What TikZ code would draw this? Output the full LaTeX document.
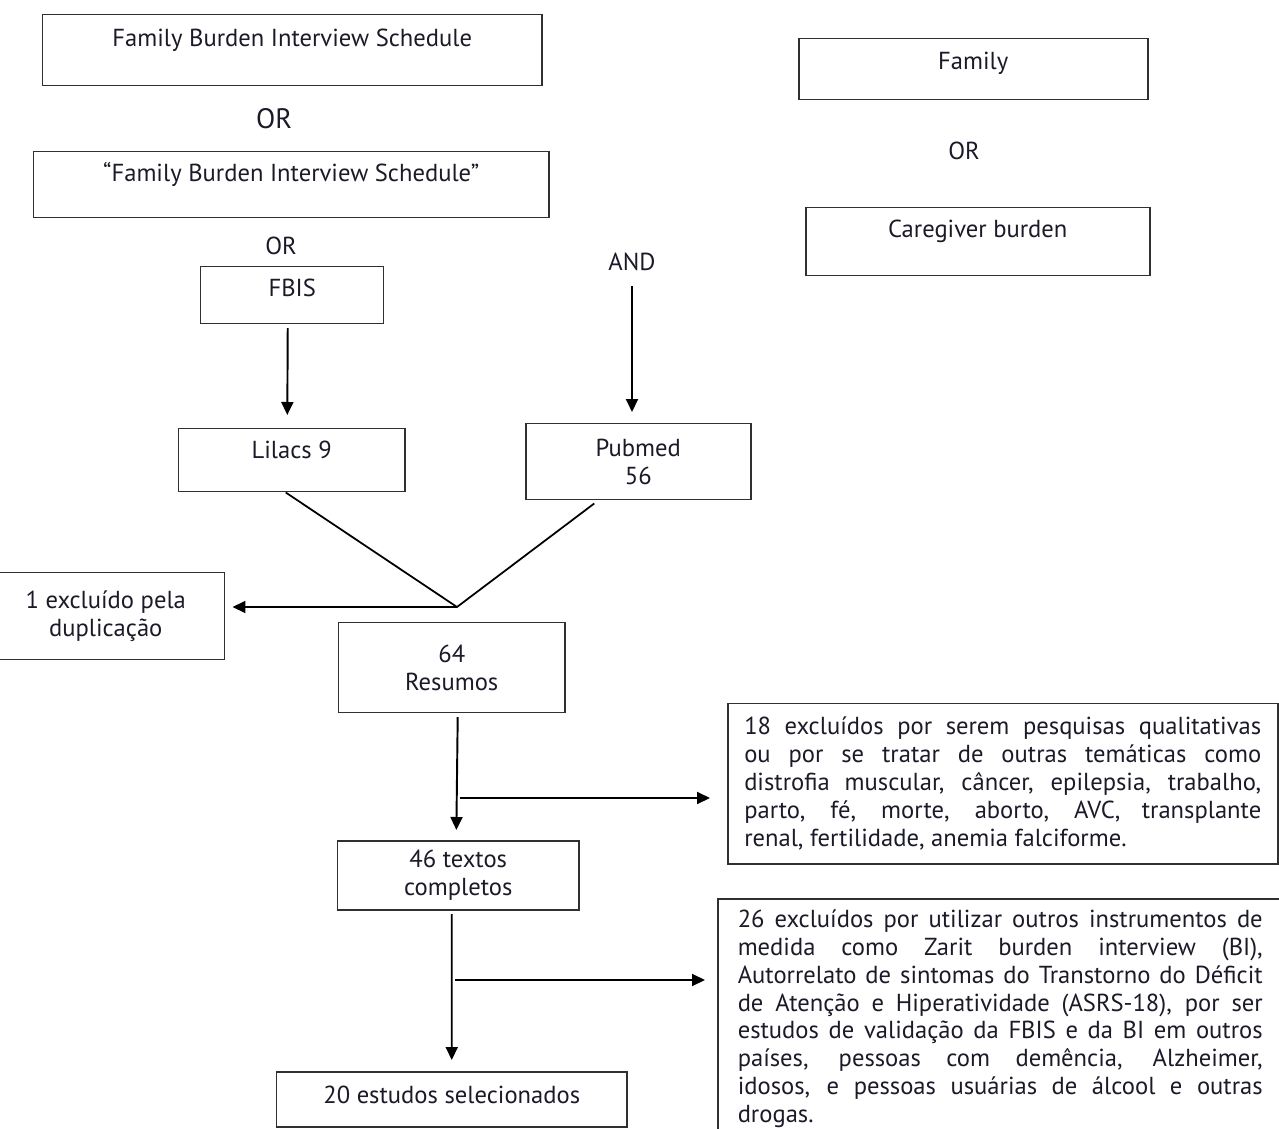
\documentclass[tikz,border=0pt]{standalone}
\usepackage{fontspec}
\setmainfont{PT Sans}
\usepackage{tikz}
\usetikzlibrary{positioning, arrows.meta, calc}
\definecolor{mLine}{HTML}{303030}
\definecolor{mText}{HTML}{1A1A28}

\begin{document}
\begin{tikzpicture}[
    font=\fontsize{14}{15.9}\selectfont, text=mText,
    box/.style={draw=mLine, line width=0.85pt, inner sep=0pt, anchor=north west},
    longbox/.style={box, align=justify, inner xsep=#1, inner ysep=0pt},
    arr/.style={-{Triangle[length=0.26cm, width=0.24cm]}, line width=1.1pt},
    link/.style={line width=1pt},
    oplabel/.style={inner sep=0pt}
  ]
    \useasboundingbox (0,0) rectangle (25.58,-22.58);

    \node[box, minimum width=9.98cm, text height=0.64cm, text depth=0.78cm] (fbisfull) at (0.84,-0.28) {Family Burden Interview Schedule};
    \node[oplabel, font=\fontsize{16}{18}\selectfont] (or1) at (5.48,-2.38) {OR};
    \node[box, minimum width=10.3cm, text height=0.6cm, text depth=0.72cm] (fbisquote) at (0.66,-3.02) {``Family Burden Interview Schedule''};
    \node[oplabel] (or2) at (5.62,-4.92) {OR};
    \node[box, minimum width=3.66cm, text height=0.6cm, text depth=0.54cm] (fbis) at (4.0,-5.32) {FBIS};

    \node[box, minimum width=6.98cm, text height=0.62cm, text depth=0.6cm] (family) at (15.96,-0.76) {Family};
    \node[oplabel] (or3) at (19.28,-3.02) {OR};
    \node[box, minimum width=6.88cm, text height=0.6cm, text depth=0.76cm] (caregiver) at (16.1,-4.14) {Caregiver burden};
    \node[oplabel] (and) at (12.64,-5.24) {AND};

    \node[box, minimum width=4.52cm, text height=0.6cm, text depth=0.66cm] (lilacs) at (3.56,-8.56) {Lilacs 9};
    \node[box, align=center, minimum width=4.5cm, minimum height=1.52cm] (pubmed) at (10.5,-8.46) {Pubmed\\56};
    \coordinate (merge) at (9.14,-12.14);
    \node[box, align=center, minimum width=4.76cm, minimum height=1.74cm] (dup) at (-0.28,-11.44) {1 excluído pela\\duplicação};
    \node[box, align=center, minimum width=4.52cm, minimum height=1.8cm] (resumos) at (6.76,-12.44) {64\\Resumos};

    \coordinate (cut1) at (9.2,-15.96);
    \node[longbox=0.33cm, text width=10.34cm, minimum height=3.2cm] (excl1) at (14.54,-14.06)
      {18 excluídos por serem pesquisas qualitativas\linebreak
       ou por se tratar de outras temáticas como\linebreak
       distrofia muscular, câncer, epilepsia, trabalho,\linebreak
       parto, fé, morte, aborto, AVC, transplante\linebreak
       renal, fertilidade, anemia falciforme.};
    \node[box, align=center, minimum width=4.82cm, minimum height=1.38cm] (textos) at (6.74,-16.8) {46 textos\\completos};

    \coordinate (cut2) at (9.1,-19.6);
    \node[longbox=0.4cm, text width=10.5cm, minimum height=4.8cm] (excl2) at (14.34,-17.96)
      {26 excluídos por utilizar outros instrumentos de\linebreak
       medida como Zarit burden interview (BI),\linebreak
       Autorrelato de sintomas do Transtorno do Déficit\linebreak
       de Atenção e Hiperatividade (ASRS-18), por ser\linebreak
       estudos de validação da FBIS e da BI em outros\linebreak
       países, pessoas com demência, Alzheimer,\linebreak
       idosos, e pessoas usuárias de álcool e outras\linebreak
       drogas.};
    \node[box, minimum width=7.0cm, text height=0.64cm, text depth=0.46cm] (estudos) at (5.52,-21.42) {20 estudos selecionados};

    \draw[arr, shorten <=2pt, shorten >=0.26cm] ([xshift=-0.09cm]fbis.south) -- ([xshift=-0.09cm]lilacs.north);
    \draw[arr, shorten <=0.3cm, shorten >=0.22cm] (and.south) -- (and.south |- pubmed.north);
    \draw[link] ([xshift=-0.12cm]lilacs.south) -- (merge) -- ([xshift=-0.88cm, yshift=-0.06cm]pubmed.south);
    \draw[arr, shorten >=0.14cm] (merge) -- (merge -| dup.east);
    \draw[arr, shorten <=2pt, shorten >=0.2cm] ([xshift=0.12cm]resumos.south) -- ([xshift=-0.04cm]textos.north);
    \draw[arr, shorten >=0.34cm] (cut1) -- (cut1 -| excl1.west);
    \draw[arr, shorten <=2pt, shorten >=0.22cm] ([xshift=-0.13cm]textos.south) -- (estudos.north);
    \draw[arr, shorten >=0.24cm] (cut2) -- (cut2 -| excl2.west);
\end{tikzpicture}
\end{document}
